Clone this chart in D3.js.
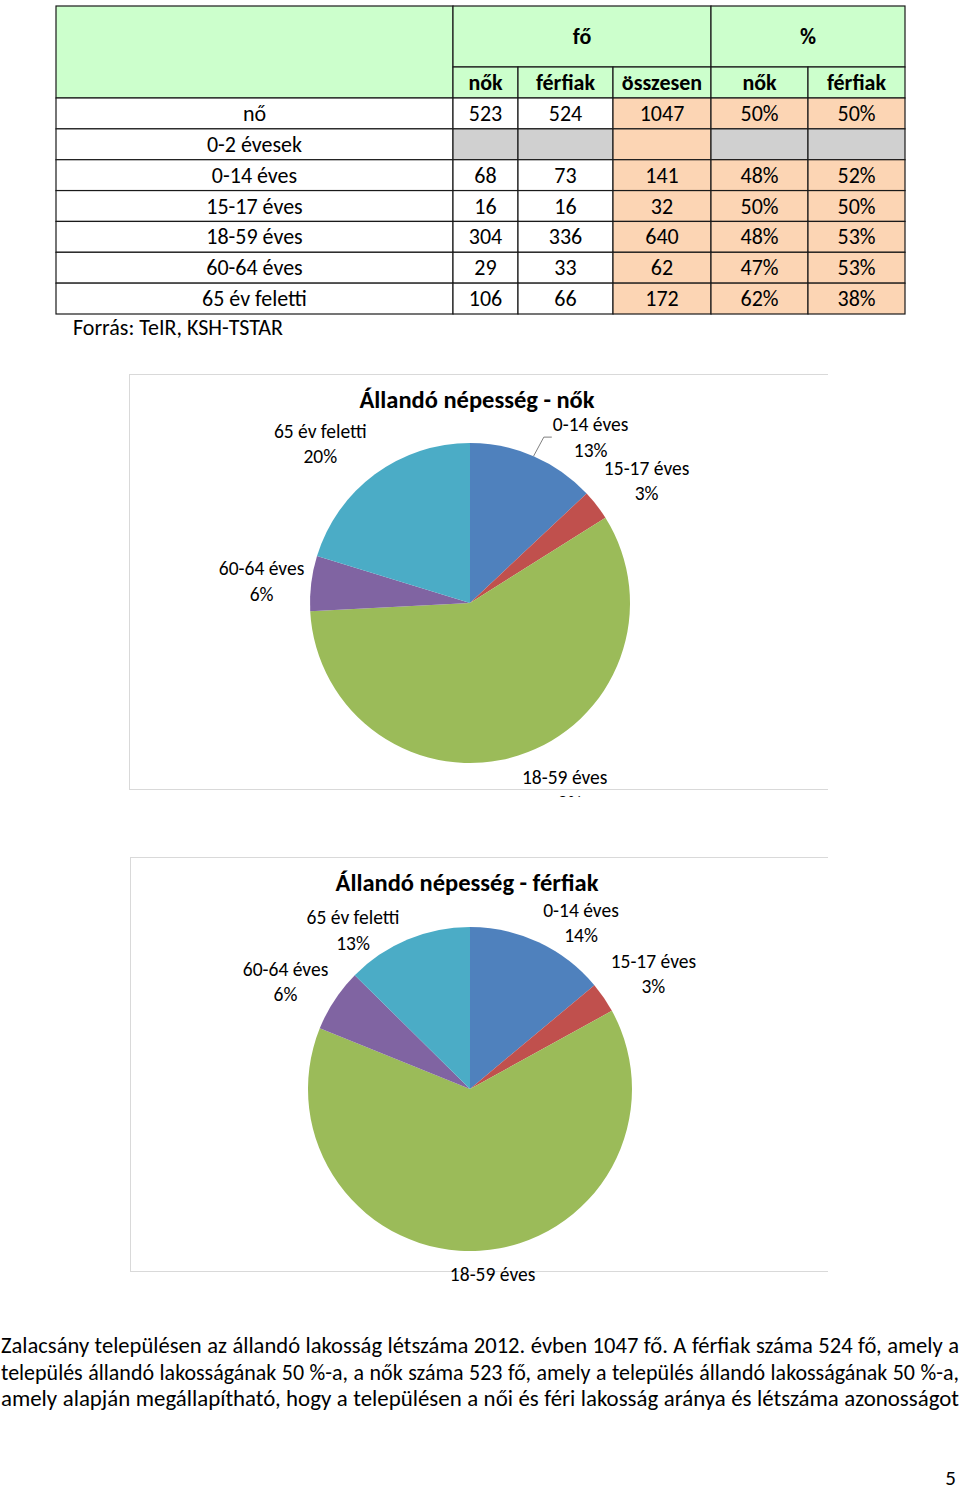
<!DOCTYPE html>
<html>
<head>
<meta charset="utf-8">
<script src="https://cdn.jsdelivr.net/npm/d3@7"></script>
<style>
  body { margin: 0; background: #fff; }
  svg text { font-family: Carlito, Calibri, Lato, "Open Sans", sans-serif; fill: #000; }
</style>
</head>
<body>
<svg id="page" width="960" height="1490"></svg>
<script>
// table data
const rowLabels = ['nő', '0-2 évesek', '0-14 éves', '15-17 éves', '18-59 éves', '60-64 éves', '65 év feletti']
const nok = [523, null, 68, 16, 304, 29, 106]
const ferfiak = [524, null, 73, 16, 336, 33, 66]
const osszesen = [1047, null, 141, 32, 640, 62, 172]
const nokPct = [50, null, 48, 50, 48, 47, 62]
const ferfiakPct = [50, null, 52, 50, 53, 53, 38]
const colHeads = ['nők', 'férfiak', 'összesen', 'nők', 'férfiak']
const groupHeads = ['fő', '%']

// pie data (age groups only, without the total row and the empty 0-2 row)
const ageGroups = rowLabels.slice(2)
const nokAges = nok.slice(2)
const ferfiakAges = ferfiak.slice(2)

const paragraph = [
  'Zalacsány településen az állandó lakosság létszáma 2012. évben 1047 fő. A férfiak száma 524 fő, amely a',
  'település állandó lakosságának 50 %-a, a nők száma 523 fő, amely a település állandó lakosságának 50 %-a,',
  'amely alapján megállapítható, hogy a településen a női és féri lakosság aránya és létszáma azonosságot'
]

const colors = ['#4f81bd', '#c0504d', '#9bbb59', '#8064a2', '#4bacc6']
const svg = d3.select('#page')

// ---------- table ----------
const colX = [56, 453, 518, 613, 711, 808, 905]
const y = d3.scaleBand().domain(d3.range(rowLabels.length)).range([98, 314])
const green = '#ccffcc', orange = '#fcd5b4', grey = '#d0d0d0'
const tbl = svg.append('g')

function cell(x0, x1, y0, y1, fill) {
  tbl.append('rect').attr('x', x0).attr('y', y0).attr('width', x1 - x0).attr('height', y1 - y0)
    .attr('fill', fill).attr('stroke', '#1a1a1a').attr('stroke-width', 1.2)
}
function txt(x, yy, s, bold) {
  tbl.append('text').attr('x', x).attr('y', yy).attr('text-anchor', 'middle')
    .attr('font-size', 22).attr('font-weight', bold ? 'bold' : null).text(s)
}

// header
cell(colX[0], colX[1], 6, 98, green)
cell(colX[1], colX[4], 6, 67, green)
cell(colX[4], colX[6], 6, 67, green)
txt((colX[1] + colX[4]) / 2, 44, groupHeads[0], true)
txt((colX[4] + colX[6]) / 2, 44, groupHeads[1], true)
colHeads.forEach((h, i) => {
  cell(colX[i + 1], colX[i + 2], 67, 98, green)
  txt((colX[i + 1] + colX[i + 2]) / 2, 90, h, true)
})

// body
const cols = [nok, ferfiak, osszesen, nokPct, ferfiakPct]
rowLabels.forEach((lab, r) => {
  const y0 = y(r), y1 = y0 + y.bandwidth(), ty = y0 + y.bandwidth() / 2 + 7.5
  cell(colX[0], colX[1], y0, y1, '#fff')
  txt((colX[0] + colX[1]) / 2, ty, lab)
  cols.forEach((c, i) => {
    const v = c[r]
    let fill = i >= 2 ? orange : '#fff'
    if (v === null && i !== 2) fill = grey
    cell(colX[i + 1], colX[i + 2], y0, y1, fill)
    if (v !== null) txt((colX[i + 1] + colX[i + 2]) / 2, ty, i >= 3 ? v + '%' : v)
  })
})
svg.append('text').attr('x', 73).attr('y', 335).attr('font-size', 22).text('Forrás: TeIR, KSH-TSTAR')

// ---------- pies ----------
function drawPie(opt) {
  const g = svg.append('g')
  g.append('clipPath').attr('id', opt.id).append('rect')
    .attr('x', opt.box[0]).attr('y', opt.box[1]).attr('width', opt.box[2] - opt.box[0]).attr('height', opt.clipBottom - opt.box[1])
  const inner = g.append('g').attr('clip-path', `url(#${opt.id})`)
  inner.append('rect').attr('x', opt.box[0] + 0.5).attr('y', opt.box[1] + 0.5)
    .attr('width', opt.box[2] - opt.box[0]).attr('height', opt.box[3] - opt.box[1])
    .attr('fill', '#fff').attr('stroke', '#d9d9d9')
  inner.append('text').attr('x', opt.titleX).attr('y', opt.box[1] + 34).attr('text-anchor', 'middle')
    .attr('font-size', 24.5).attr('font-weight', 'bold').text(opt.title)

  const total = d3.sum(opt.values)
  const arcs = d3.pie().sort(null)(opt.values)
  const arc = d3.arc().innerRadius(0).outerRadius(opt.r)
  const pg = inner.append('g').attr('transform', `translate(${opt.cx},${opt.cy})`)
  pg.selectAll('path').data(arcs).join('path')
    .attr('d', arc).attr('fill', (d, i) => colors[i])

  const R = opt.r + 48
  arcs.forEach((d, i) => {
    const a = (d.startAngle + d.endAngle) / 2
    const lx = Math.sin(a) * R + opt.nudge[i][0]
    const ly = -Math.cos(a) * R + opt.nudge[i][1]
    const t = pg.append('text').attr('text-anchor', 'middle').attr('font-size', 19.5)
    t.append('tspan').attr('x', lx).attr('y', ly - 6).text(ageGroups[i])
    t.append('tspan').attr('x', lx).attr('y', ly + 19.5).text(Math.round(d.value / total * 100) + '%')
    if (opt.leader[i]) {
      const w = t.node().getBBox().width
      const ex = lx - w / 2 - 1, ey = ly
      pg.append('polyline').attr('fill', 'none').attr('stroke', '#7f7f7f').attr('stroke-width', 1)
        .attr('points', [[Math.sin(a) * opt.r, -Math.cos(a) * opt.r], [ex - 8, ey], [ex, ey]].join(' '))
    }
  })
}

drawPie({
  id: 'clipNok', title: 'Állandó népesség - nők', titleX: 477,
  box: [129, 374, 828, 789], clipBottom: 797,
  cx: 470, cy: 603, r: 160, values: nokAges,
  nudge: [[38, 25], [12, 5], [32, -11], [-2, 4], [-26, 8]],
  leader: [true, false, false, false, false]
})
drawPie({
  id: 'clipFerfi', title: 'Állandó népesség - férfiak', titleX: 467,
  box: [130, 857, 828, 1271], clipBottom: 1282,
  cx: 470, cy: 1089, r: 162, values: ferfiakAges,
  nudge: [[22, 24], [10, 3], [10, -12], [-9, 8], [-36, 35]],
  leader: [false, false, false, false, false]
})

// ---------- paragraph, justified ----------
paragraph.forEach((line, i) => {
  const words = line.split(' ')
  const ty = 1353 + i * 26.5
  const tmp = svg.append('g')
  const widths = words.map(w => {
    const n = tmp.append('text').attr('font-size', 21.5).text(w)
    return n.node().getComputedTextLength()
  })
  tmp.remove()
  const sum = d3.sum(widths)
  const wantGap = 5.5
  const scale = (958 - wantGap * (words.length - 1)) / sum
  let x = 1
  words.forEach((w, k) => {
    svg.append('text').attr('x', x).attr('y', ty).attr('font-size', 21.5).text(w)
      .attr('textLength', widths[k] * scale).attr('lengthAdjust', 'spacingAndGlyphs')
    x += widths[k] * scale + wantGap
  })
})

svg.append('text').attr('x', 956).attr('y', 1485).attr('text-anchor', 'end').attr('font-size', 21).text('5')
</script>
</body>
</html>
